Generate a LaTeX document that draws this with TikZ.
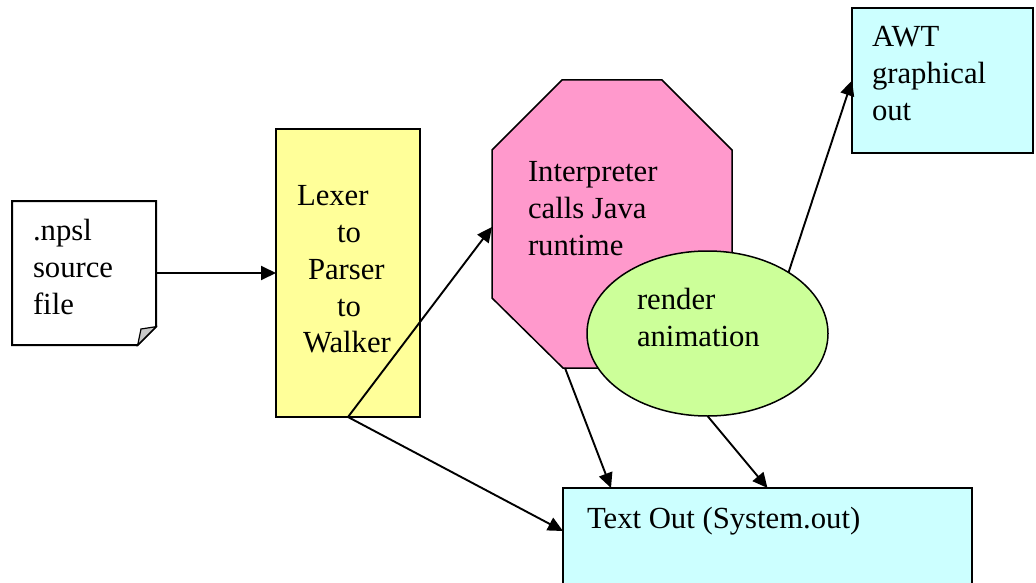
\documentclass[tikz,border=0pt]{standalone}
\usepackage{fontspec}
\setmainfont{Liberation Serif}
\usetikzlibrary{arrows.meta,shapes.geometric}
\definecolor{yel}{HTML}{FFFF99}
\definecolor{pnk}{HTML}{FF99CC}
\definecolor{grn}{HTML}{CCFF99}
\definecolor{cyn}{HTML}{CCFFFF}
\definecolor{fold}{HTML}{C8C8C8}
\begin{document}
\begin{tikzpicture}[x=1pt,y=-1pt,
  box/.style={draw, line width=2.6pt, inner sep=0pt, outer sep=0pt},
  holder/.style={inner sep=0pt, outer sep=0pt},
  txt/.style={anchor=base west, inner sep=0pt, outer sep=0pt, font=\fontsize{30.7}{37}\selectfont},
  arr/.style={line width=1.9pt, -{Triangle[length=15pt,width=14pt]}}]
\useasboundingbox (0,0) rectangle (1036,583);

% note (source file)
\node[holder, minimum width=144pt, minimum height=144pt] (note) at (84,273) {};
\draw[line width=2pt, fill=white, line join=miter]
  (12,201) -- (156,201) -- (156,326.7) -- (137.7,345) -- (12,345) -- cycle;
\draw[line width=1.2pt, fill=fold] (156,326.7) -- (137.7,345) -- (141,329) -- cycle;

% lexer box
\node[box, fill=yel, minimum width=144pt, minimum height=288pt] (lex) at (348,273) {};

% octagon
\node[holder, minimum width=240pt, minimum height=288pt] (oct) at (612,224) {};
\draw[line width=1.5pt, fill=pnk]
  (562,80) -- (662,80) -- (732,150) -- (732,298) -- (662,368) -- (563,368) -- (492,298) -- (492,150) -- cycle;
\coordinate (octL) at (492,227);
\coordinate (octB) at (565,368);

% ellipse
\node[draw, ellipse, fill=grn, line width=1.5pt, inner sep=0pt, outer sep=0pt,
  minimum width=241pt, minimum height=165pt] (ell) at (707.5,333.5) {};

% AWT box
\node[box, fill=cyn, minimum width=181pt, minimum height=145pt] (awt) at (942.5,80.5) {};

% Text out box
\node[box, fill=cyn, minimum width=409pt, minimum height=132pt] (out) at (767.5,554) {};
\coordinate (outL) at (563,531);
\coordinate (outT) at (611,488);

% texts
\node[txt] (n1) at (33,240) {.npsl};
\node[txt] (n2) at (33,277) {source};
\node[txt] (n3) at (33,314) {file};

\node[txt] (l1) at (297,205) {Lexer};
\node[txt] (l2) at (337,242) {to};
\node[txt] (l3) at (308,279) {Parser};
\node[txt] (l4) at (337,316) {to};
\node[txt] (l5) at (303,352) {Walker};

\node[txt] (i1) at (528,182) {Interpreter};
\node[txt] (i2) at (528,218.5) {calls Java};
\node[txt] (i3) at (528,255) {runtime};

\node[txt] (r1) at (637,309) {render};
\node[txt] (r2) at (637,346) {animation};

\node[txt] (a1) at (872,47) {AWT};
\node[txt] (a2) at (872,84) {graphical};
\node[txt] (a3) at (872,121) {out};

\node[txt] (o1) at (587,528) {Text Out (System.out)};

% connectors
\draw[arr] (note.east) -- (lex.west);
\draw[arr] (lex.south) -- (octL);
\draw[arr] (lex.south) -- (outL);
\draw[arr] (octB) -- (outT);
\draw[arr] (ell.south) -- (out.north);
\draw[arr] (ell.37) -- (awt.west);
\end{tikzpicture}
\end{document}
